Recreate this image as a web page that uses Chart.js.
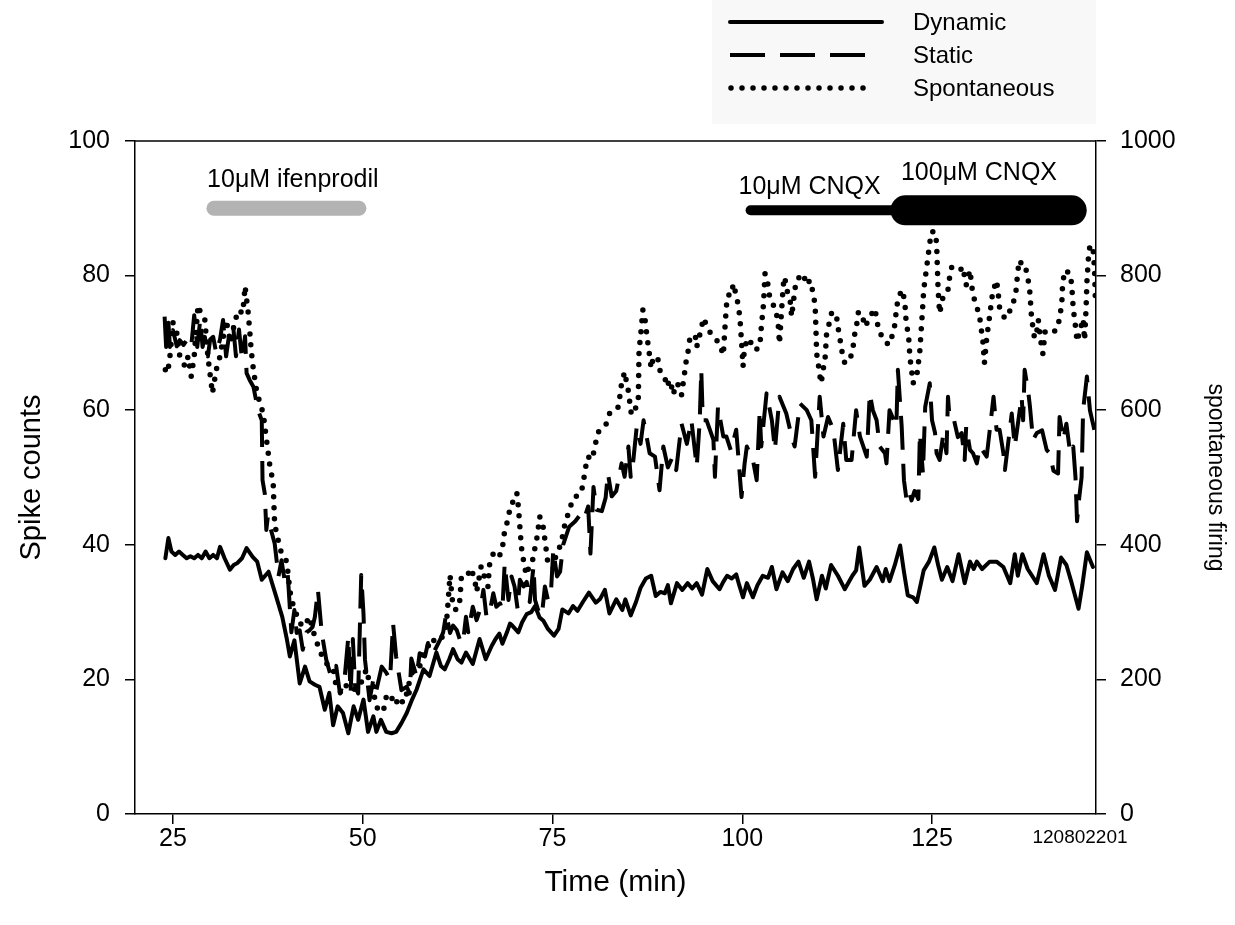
<!DOCTYPE html>
<html>
<head>
<meta charset="utf-8">
<script src="https://cdn.jsdelivr.net/npm/chart.js@4.4.1/dist/chart.umd.min.js"></script>
<style>
  body { margin: 0; background: #fff; }
  canvas { display: block; }
</style>
</head>
<body>
<canvas id="chart" width="1235" height="925"></canvas>
<script>
// Time axis ticks (min)
const xTicks = [25, 50, 75, 100, 125];

// Dynamic (spike counts, left axis)
const dynTime = [
  24.0,24.4,24.8,25.3,25.8,26.3,26.8,27.3,27.8,28.3,
  28.8,29.3,29.8,30.3,30.8,31.2,31.8,32.5,33.0,33.5,
  34.1,34.7,35.5,36.1,36.7,37.6,38.6,39.4,40.0,40.4,
  41.0,41.7,42.4,43.0,43.7,44.3,45.0,45.6,46.1,46.7,
  47.4,48.1,48.8,49.4,50.1,50.7,51.4,51.8,52.4,53.1,
  53.8,54.4,55.1,55.8,56.5,57.1,58.0,58.8,59.7,60.3,
  60.8,61.4,61.9,62.5,63.0,63.6,64.5,65.4,66.2,67.0,
  67.5,68.0,68.4,69.0,69.4,69.7,70.5,71.0,71.6,72.2,
  72.7,73.3,73.8,74.4,75.2,75.8,76.3,77.1,77.7,78.3,
  79.0,79.8,80.7,81.3,81.9,82.5,83.4,84.2,84.6,85.3,
  86.0,86.6,87.3,88.0,88.6,89.2,89.8,90.2,90.6,91.4,
  92.1,92.8,93.4,94.0,94.7,95.4,96.1,97.0,97.5,98.0,
  98.6,99.2,99.6,100.1,100.6,101.4,102.0,102.7,103.4,103.9,
  104.5,105.3,106.0,106.7,107.4,108.1,108.8,109.3,109.8,110.5,
  111.0,111.7,112.6,113.5,114.5,115.0,115.4,116.1,116.8,117.7,
  118.5,118.9,119.4,120.1,120.8,121.3,121.8,122.5,123.0,123.9,
  124.6,125.3,125.8,126.3,127.0,127.7,128.5,129.3,130.0,130.5,
  130.9,131.6,132.6,133.5,134.4,135.3,135.9,136.3,136.9,137.6,
  138.8,139.7,140.4,141.2,142.0,142.7,143.4,144.3,144.8,145.4,
  146.2
];
const dynCount = [
  38,41,39,38.5,39,38.5,38,38.3,38,38.5,
  38,39,38,38.5,38,39.7,38,36.3,37,37.3,
  38,39.5,38.2,37.5,34.8,36,32.3,29.3,26,23.4,
  25.8,19.4,21.9,19.7,19.2,18.9,15.5,18,13.2,16,
  15,12,16,14,17,12.2,14.5,12.2,14,12.2,
  12,12.2,13.5,15,17,18.5,21.5,20.5,24,22,
  21.5,23,24.5,23,22.5,24,22.3,26,23,25,
  26,26.8,25.3,27,28.3,28,27,28.5,29.7,30,
  30.9,29.2,28.7,27.5,26.5,27.5,30.4,29.8,30.9,30.2,
  31.5,32.9,31.4,32,33.3,29.8,31.9,30.3,31.9,29.5,
  31.5,33.6,35,35.4,32.4,33,32.8,34,31.3,34.3,
  33.3,34.3,33.5,34.3,32.6,36.4,34.6,33.4,34.5,35.4,
  35,35.6,34,32.2,34.3,32.2,34,35.4,35.1,36.7,
  33.4,35.9,34.6,36.4,37.5,35.1,37.5,35,31.9,35.4,
  33.5,37,35.4,33.4,35.4,36.2,39.6,33.9,34.8,36.7,
  34.6,36.4,34.6,37,39.9,36,32.5,32.2,31.5,36.2,
  37.5,39.6,37,34.8,36.7,34.6,38.6,34.3,37.5,36.4,
  37.5,36.4,37.5,37.5,36.7,34.3,38.6,35.4,38.6,36.4,
  34.3,38.6,35.4,33.3,38.1,37,34.3,30.5,34,38.9,
  36.7
];

// Static (spike counts, left axis)
const statTime = [
  23.9,24.1,24.4,24.6,25.0,25.5,25.9,26.4,26.8,27.4,
  27.8,28.2,28.6,28.9,29.2,29.6,29.9,30.3,30.7,31.2,
  31.6,32.0,32.5,32.9,33.3,33.7,34.1,34.5,34.7,35.1,
  35.6,36.2,36.7,36.8,37.1,37.3,37.5,37.8,38.4,38.9,
  39.3,39.7,40.1,40.6,41.0,41.3,41.7,42.1,42.6,43.0,
  43.4,43.7,44.1,44.6,45.2,45.8,46.5,47.0,47.6,48.1,
  48.4,48.7,49.0,49.4,49.8,50.1,50.3,50.5,50.9,51.4,
  51.8,52.5,53.1,53.6,54.0,54.4,55.1,55.8,56.2,56.4,
  57.1,57.5,58.2,58.6,59.3,60.2,60.6,61.0,61.5,61.9,
  62.4,62.8,63.2,63.6,63.9,64.5,65.0,65.5,65.9,66.3,
  66.7,67.2,67.6,68.1,68.4,68.7,69.2,69.6,70.0,70.4,
  70.7,71.2,71.6,72.0,72.5,72.7,73.2,73.6,74.0,74.4,
  74.8,75.1,75.6,76.0,76.4,77.2,78.0,78.8,79.2,79.7,
  80.0,80.4,80.8,81.5,82.0,82.3,82.8,83.4,84.1,84.5,
  85.0,85.3,85.6,86.1,86.6,87.0,87.8,88.5,89.1,89.6,
  90.2,90.8,91.3,92.0,92.7,93.3,94.0,94.4,94.6,94.8,
  95.3,96.2,96.4,96.8,97.5,97.9,98.5,99.2,99.9,100.3,
  100.6,101.4,101.9,102.3,102.5,103.2,103.9,104.3,104.9,105.8,
  106.5,106.9,107.6,108.5,109.1,109.6,110.2,110.7,111.3,112.0,
  112.6,113.3,113.7,114.4,115.0,115.5,116.4,116.8,117.2,117.7,
  118.1,118.8,119.0,119.4,120.3,120.5,121.0,121.3,121.6,121.9,
  122.3,122.7,123.2,123.4,123.8,124.1,124.7,125.0,125.4,125.6,
  126.0,126.5,126.9,127.1,127.3,127.8,128.4,128.9,129.3,129.5,
  130.0,130.4,130.9,131.3,132.2,132.6,133.1,133.5,133.9,134.4,
  134.6,135.5,135.9,136.8,137.0,137.2,137.7,137.9,138.3,138.8,
  139.5,140.1,140.5,141.0,141.6,141.8,142.3,142.7,143.2,143.6,
  143.9,144.1,144.4,144.7,144.9,145.4,145.8,146.4
];
const statCount = [
  73.9,69.4,73,69.4,71.9,69.5,70.4,69.7,70.4,69.4,
  74.1,69.4,73.5,69.4,70.9,68,70.5,70.9,68.5,70.5,
  73.4,68,72,72.9,68,72,67.5,71,65.5,64.5,
  63.5,60,58.5,49.6,47.6,42.2,44.2,42.7,40.2,35.3,
  37.7,34.8,36,27,30.3,26.9,27.3,24.4,27,27.3,
  27.8,29.3,33.3,26.9,22.9,20.5,22,17.9,20,26.3,
  18,26,19,17.9,35.5,29.8,22.9,20.9,16.9,20,
  18.4,21.9,21,20,28.3,23.4,18.4,18.9,17.9,23.1,
  20.4,23.9,23.4,25.4,23.9,25.9,27,29.8,26.9,28,
  27.3,25.9,25.4,29.3,27,30.8,28.8,30.5,33.3,29.3,
  29.8,32.8,30.8,31.3,30.3,37.2,31.8,35.3,33.8,30.5,
  34.8,33.8,34.5,31.5,36.8,31.8,30,29.5,33.8,31.8,
  33,39.2,35.3,36,40,42.7,43.5,44.7,44,45.7,
  38.7,48.6,45.2,45,47,50.6,47.2,48,52.1,50.1,
  54.6,50.1,52,57.6,55,58.5,53.6,53.1,48.1,54.6,
  51.5,53,51.1,58,55,58.5,51.6,58.5,66,58.5,
  58.5,55.6,50.1,60.5,56.1,56.1,54,57.1,47.1,52,
  54.6,52.6,49.6,60,54.6,62.5,58.5,54.1,62,59.5,
  56.1,54.6,61,60,58.5,50.1,62,56.1,59,57.1,
  51.1,58,52.6,52.6,60,56.1,53.1,62.5,60,58.5,
  54.6,53.6,52.1,60,57.6,66,57.6,49.6,47,48.2,
  46.6,48,46.8,56.6,50.6,60.5,64,58.5,56.6,53.6,
  52.6,56.6,53.6,62,59,59,56,56.6,52.6,57.6,
  54.1,53.6,52.1,54.6,53.1,57,62,57.1,57.1,53.6,
  51.1,59.5,54.6,62,58.5,66,62.5,60.5,55.6,56.6,
  57,54.1,53.6,51,50.6,59,55.6,58,53.6,54.6,
  50,43.5,47.1,50,60,65,60,57
];

// Spontaneous firing (right axis)
const sponTime = [
  24.0,24.3,24.6,25.0,25.5,25.9,26.6,27.0,27.4,27.8,
  28.3,28.8,29.2,29.6,30.2,30.7,31.2,32.0,32.6,33.1,
  33.6,34.2,34.5,34.9,35.1,35.3,35.6,36.0,36.4,36.9,
  37.1,37.3,37.5,37.8,38.2,38.3,38.4,38.9,39.3,40.0,
  40.2,40.4,40.6,41.1,41.5,42.1,42.6,43.0,43.5,43.9,
  44.1,44.6,45.2,46.1,46.5,47.2,47.9,48.7,49.6,50.1,
  50.5,50.9,51.4,51.6,52.0,52.7,53.1,53.6,54.2,54.9,
  55.3,55.8,56.4,57.5,58.0,58.6,59.1,59.6,60.2,60.8,
  61.0,61.2,61.5,61.7,61.9,62.3,62.8,63.0,63.7,64.3,
  64.8,65.0,65.4,65.6,66.1,66.5,66.7,67.2,67.6,68.1,
  68.5,68.7,69.2,69.4,69.8,70.3,70.5,70.7,70.9,71.1,
  71.4,71.6,72.0,72.5,72.7,72.9,73.1,73.3,73.5,73.8,
  74.0,74.2,74.4,75.1,75.5,76.2,76.4,76.8,77.3,77.7,
  78.8,79.0,79.3,79.5,79.7,80.1,80.6,80.8,81.2,82.1,
  82.6,83.7,83.9,84.1,84.5,84.7,85.0,85.2,85.4,85.8,
  86.3,86.35,86.4,86.7,86.9,87.2,87.4,87.6,87.8,88.0,
  88.3,88.9,89.1,89.8,90.0,90.5,90.9,91.3,91.8,92.0,
  92.4,92.6,92.9,93.1,93.8,94.0,94.4,94.9,95.5,96.0,
  96.4,97.0,97.5,97.7,97.8,97.9,98.1,98.6,98.8,99.2,
  99.5,99.7,99.8,99.9,100.0,100.1,100.3,100.8,101.7,102.3,
  102.5,102.8,103.0,103.4,103.6,104.3,104.7,104.9,105.1,105.4,
  105.6,105.8,106.3,106.5,106.9,107.1,108.0,108.5,108.9,109.3,
  109.6,109.7,109.8,110.0,110.2,110.4,110.6,110.9,111.1,111.8,
  112.4,112.6,112.9,113.1,113.5,114.2,114.6,114.8,115.1,115.3,
  115.7,116.2,116.8,117.5,117.7,118.1,118.8,119.2,119.7,120.1,
  120.3,120.5,121.0,121.4,121.5,121.6,121.9,122.0,122.1,122.3,
  122.5,123.0,123.2,123.4,123.5,123.6,123.7,123.8,123.9,124.1,
  124.3,124.5,124.7,124.9,125.4,125.6,125.65,125.7,125.75,125.8,
  125.9,126.0,126.5,127.1,127.3,127.6,128.0,128.7,129.1,129.3,
  129.5,130.0,130.2,130.4,130.9,131.3,131.5,131.7,131.9,132.2,
  132.4,132.6,132.8,133.0,133.5,133.7,133.9,134.6,135.6,136.1,
  136.3,136.6,137.0,137.4,137.7,137.9,138.0,138.1,138.3,138.5,
  138.8,139.0,139.2,139.4,139.6,139.9,140.5,141.4,141.8,142.1,
  142.2,142.5,143.2,143.4,143.5,143.6,143.8,144.0,144.1,144.5,
  144.9,145.1,145.3,145.4,145.6,145.8,146.2,146.4,146.5,146.6
];
const sponRate = [
  660,655,680,730,715,680,665,680,650,680,
  756,740,734,680,625,660,680,734,700,729,
  749,744,784,746,720,690,660,630,613,595,
  576,558,541,514,494,460,430,405,387,375,
  353,333,318,303,288,278,285,293,270,259,
  249,236,224,216,190,179,192,184,189,205,
  215,194,190,169,155,152,174,179,162,174,
  165,179,209,219,239,249,261,255,259,268,
  280,308,355,330,308,303,318,353,353,365,
  345,330,355,368,350,338,370,387,392,385,
  402,422,439,457,464,477,457,427,397,382,
  363,355,372,380,397,407,422,442,439,425,
  407,390,372,365,387,402,420,437,454,469,
  477,491,509,526,531,526,543,561,571,580,
  598,605,623,640,657,645,628,610,593,598,
  615,650,687,722,749,734,714,697,680,662,
  680,675,660,650,635,645,623,640,635,623,
  655,672,690,707,712,694,712,737,720,712,
  707,699,682,719,736,754,771,771,788,771,
  754,736,719,702,684,665,694,707,689,694,
  722,758,803,786,769,751,734,699,734,786,
  798,781,764,739,776,793,803,786,793,776,
  756,722,684,670,652,640,657,675,712,746,
  741,724,704,689,670,675,694,712,729,746,
  744,724,739,751,734,714,707,697,709,727,
  749,764,779,764,746,729,712,694,677,660,
  640,652,670,689,707,724,741,759,778,796,
  813,831,848,865,865,848,831,813,796,779,
  761,744,771,779,796,813,811,808,813,796,
  786,808,788,771,754,736,719,702,670,707,
  724,741,759,776,793,776,752,736,754,780,
  808,823,808,808,791,774,756,739,722,707,
  717,734,714,697,684,717,714,719,736,760,
  788,808,803,786,769,751,734,714,702,719,
  736,704,754,790,826,845,843,810,771,754
];

// Drug applications: label, start and end time (min)
const drugNames = ['10\u03bcM ifenprodil', '10\u03bcM CNQX', '100\u03bcM CNQX'];
const drugStart = [30.4, 101.1, 121.5];
const drugEnd = [49.5, 121.5, 143.4];

const seriesNames = ['Dynamic', 'Static', 'Spontaneous'];

const FONT = "'Liberation Sans', Arial, Helvetica, sans-serif";
Chart.defaults.font.family = FONT;
Chart.defaults.color = '#000';

function toPoints(xs, ys) {
  return xs.map((x, i) => ({ x: x, y: ys[i] }));
}

// sample strokes for the legend
function strokeSample(ctx, x0, x1, y, dash, width, cap) {
  ctx.save();
  ctx.strokeStyle = '#000';
  ctx.lineWidth = width;
  ctx.lineCap = cap;
  ctx.setLineDash(dash);
  ctx.beginPath();
  ctx.moveTo(x0, y);
  ctx.lineTo(x1, y);
  ctx.stroke();
  ctx.restore();
}

const extras = {
  id: 'extras',
  afterDraw(chart) {
    const { ctx, chartArea: a, scales: { x, y } } = chart;
    ctx.save();

    // top edge of the frame
    ctx.strokeStyle = '#000';
    ctx.lineWidth = 1.5;
    ctx.beginPath();
    ctx.moveTo(a.left, a.top);
    ctx.lineTo(a.right, a.top);
    ctx.stroke();

    // drug bars
    ctx.lineCap = 'round';
    ctx.strokeStyle = '#b3b3b3';
    ctx.lineWidth = 15;
    ctx.beginPath();
    ctx.moveTo(x.getPixelForValue(drugStart[0]), y.getPixelForValue(90));
    ctx.lineTo(x.getPixelForValue(drugEnd[0]), y.getPixelForValue(90));
    ctx.stroke();

    ctx.strokeStyle = '#000';
    ctx.lineWidth = 10;
    ctx.beginPath();
    ctx.moveTo(x.getPixelForValue(drugStart[1]), y.getPixelForValue(89.7));
    ctx.lineTo(x.getPixelForValue(drugEnd[1]), y.getPixelForValue(89.7));
    ctx.stroke();

    ctx.lineWidth = 30;
    ctx.beginPath();
    ctx.moveTo(x.getPixelForValue(drugStart[2]), y.getPixelForValue(89.7));
    ctx.lineTo(x.getPixelForValue(drugEnd[2]), y.getPixelForValue(89.7));
    ctx.stroke();

    // drug labels
    ctx.fillStyle = '#000';
    ctx.font = '25px ' + FONT;
    ctx.textAlign = 'left';
    ctx.textBaseline = 'alphabetic';
    ctx.fillText(drugNames[0], x.getPixelForValue(29.5), y.getPixelForValue(93.2));
    ctx.fillText(drugNames[1], x.getPixelForValue(99.5), y.getPixelForValue(92.1));
    ctx.fillText(drugNames[2], x.getPixelForValue(120.9), y.getPixelForValue(94.2));

    // recording id
    ctx.font = '19px ' + FONT;
    ctx.textAlign = 'center';
    ctx.textBaseline = 'middle';
    ctx.fillText('120802201', 1080, 838);

    // legend
    ctx.fillStyle = '#f8f8f8';
    ctx.fillRect(712, 0, 384, 124);
    strokeSample(ctx, 730, 882, 22, [], 4, 'round');
    strokeSample(ctx, 730, 865, 55, [35, 15], 4, 'butt');
    strokeSample(ctx, 731, 874, 88, [0, 11], 5.5, 'round');
    ctx.fillStyle = '#000';
    ctx.font = '24px ' + FONT;
    ctx.textAlign = 'left';
    ctx.textBaseline = 'middle';
    ctx.fillText(seriesNames[0], 913, 23);
    ctx.fillText(seriesNames[1], 913, 56);
    ctx.fillText(seriesNames[2], 913, 89);

    ctx.restore();
  }
};

const axisGrid = { drawOnChartArea: false, color: '#000', lineWidth: 1.5, tickLength: 10 };
const axisBorder = { color: '#000', width: 1.5 };
const plainTick = v => String(v);

new Chart(document.getElementById('chart'), {
  type: 'line',
  data: {
    datasets: [
      {
        label: seriesNames[0],
        data: toPoints(dynTime, dynCount),
        yAxisID: 'y',
        borderColor: '#000',
        borderWidth: 4,
        borderJoinStyle: 'round',
        borderCapStyle: 'round',
        pointRadius: 0,
        tension: 0
      },
      {
        label: seriesNames[1],
        data: toPoints(statTime, statCount),
        yAxisID: 'y',
        borderColor: '#000',
        borderWidth: 4,
        borderDash: [34, 14],
        borderJoinStyle: 'round',
        pointRadius: 0,
        tension: 0
      },
      {
        label: seriesNames[2],
        data: toPoints(sponTime, sponRate),
        yAxisID: 'y2',
        borderColor: '#000',
        borderWidth: 5.5,
        borderDash: [0, 11],
        borderCapStyle: 'round',
        borderJoinStyle: 'round',
        pointRadius: 0,
        tension: 0
      }
    ]
  },
  options: {
    responsive: false,
    animation: false,
    layout: { padding: { top: 141, left: 0, right: 0, bottom: 0 } },
    plugins: {
      legend: { display: false },
      tooltip: { enabled: false }
    },
    scales: {
      x: {
        type: 'linear',
        min: 20,
        max: 146.6,
        afterBuildTicks: s => { s.ticks = xTicks.map(v => ({ value: v })); },
        afterFit: s => { s.height = 111; },
        ticks: { font: { size: 25 }, padding: 0, maxRotation: 0, autoSkip: false, callback: plainTick },
        grid: axisGrid,
        border: axisBorder,
        title: { display: true, text: 'Time (min)', font: { size: 30 }, padding: { top: 0, bottom: 24 } }
      },
      y: {
        position: 'left',
        min: 0,
        max: 100,
        afterFit: s => { s.width = 135; },
        ticks: { stepSize: 20, font: { size: 25 }, padding: 15, callback: plainTick },
        grid: axisGrid,
        border: axisBorder,
        title: { display: true, text: 'Spike counts', font: { size: 29 }, padding: { top: 15, bottom: 0 } }
      },
      y2: {
        position: 'right',
        min: 0,
        max: 1000,
        afterFit: s => { s.width = 139; },
        ticks: { stepSize: 200, font: { size: 25 }, padding: 14, callback: plainTick },
        grid: axisGrid,
        border: axisBorder,
        title: { display: true, text: 'spontaneous firing', font: { size: 23 }, padding: { top: 6, bottom: 0 } }
      }
    }
  },
  plugins: [extras]
});
</script>
</body>
</html>
